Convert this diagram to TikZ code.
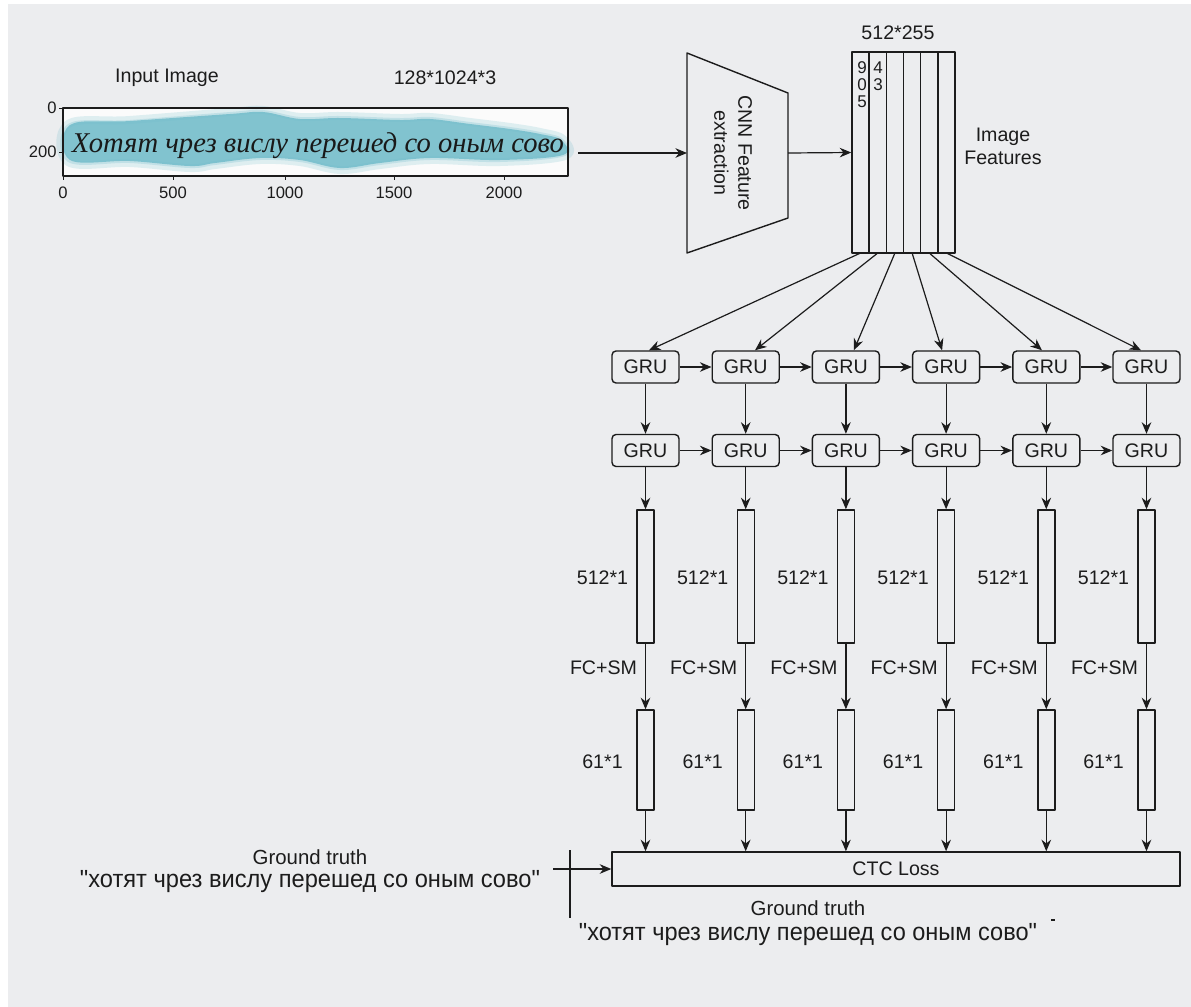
\documentclass[tikz,border=0pt]{standalone}
\usepackage{fontspec}
\setmainfont{Liberation Sans}[Ligatures=TeXOff]
\newfontfamily\handfont{Liberation Serif}
\usetikzlibrary{arrows.meta,calc}
\definecolor{bg}{RGB}{236,237,239}
\definecolor{ink}{RGB}{28,28,28}
\definecolor{blob}{RGB}{108,186,200}
\tikzset{
  lbl/.style={font=\fontsize{9.8}{11}\selectfont, text=ink, inner sep=0pt},
  tick/.style={font=\fontsize{8.3}{9}\selectfont, text=ink, inner sep=0pt},
  digit/.style={font=\fontsize{8.5}{9}\selectfont, text=ink, inner sep=0pt},
  arr/.style={draw=ink, line width=0.6pt, -{Stealth[length=5.8pt,width=4.8pt]}},
  ln/.style={draw=ink, line width=0.7pt},
  gru/.style={draw=ink, line width=0.7pt, rounded corners=2pt, minimum width=33.5pt, minimum height=16pt, inner sep=0pt, font=\fontsize{9.8}{11}\selectfont, text=ink},
  barA/.style={draw=ink, line width=0.7pt, minimum width=8.5pt, minimum height=66.5pt, inner sep=0pt},
  barB/.style={draw=ink, line width=0.7pt, minimum width=8.5pt, minimum height=50pt, inner sep=0pt},
}
\begin{document}
\begin{tikzpicture}[x=0.5pt,y=-0.5pt, line join=round]
\useasboundingbox (0,0) rectangle (1191,1007);
\fill[white] (0,0) rectangle (1191,1007);
\fill[bg] (8,4) rectangle (1191,1007);

% ---------- input image plot ----------
\node[lbl] (ttlin) at (167,78) {Input Image};
\node[lbl] (ttlsz) at (445,78) {128*1024*3};
\fill[white!97!gray] (63,108) rectangle (568,176);
\path[fill=blob, fill opacity=0.25, draw=blob, draw opacity=0.2, line width=4pt]
  plot[smooth cycle, tension=0.6] coordinates {
   (68,124) (130,120) (230,112) (263,110) (300,117) (340,116) (400,118) (430,117)
   (470,122) (510,127) (540,132) (563,139) (565,156) (500,162) (430,160)
   (380,165) (340,170) (300,162) (260,160) (215,165) (190,168) (130,163) (68,162)};
\path[fill=blob, fill opacity=0.8]
  plot[smooth cycle, tension=0.6] coordinates {
   (70,125) (130,121) (230,114) (263,112) (300,119) (340,118) (400,120) (430,119)
   (470,124) (510,129) (540,134) (561,140) (563,155) (500,160) (430,158)
   (380,163) (340,168) (300,160) (260,158) (215,163) (190,166) (130,161) (70,160)};
\node[text=black!90, inner sep=0pt] (hand) at (318,146)
  {\resizebox{246pt}{!}{\handfont\itshape Хотят чрез вислу перешед со оным сово}};
\node[draw=ink, line width=0.6pt, minimum width=252.5pt, minimum height=34pt, inner sep=0pt] (plot) at (315.5,142) {};
% ticks
\draw[ln, line width=0.5pt] (59,108) -- (63,108) (59,152) -- (63,152);
\foreach \xv/\xl in {63/0,173/500,285/1000,394/1500,504/2000}
  \draw[ln, line width=0.5pt] (\xv,176) -- (\xv,180);
\node[tick, anchor=east] (y0) at (57,108) {0};
\node[tick, anchor=east] (y200) at (57,152) {200};
\node[tick] (x0) at (63,193) {0};
\node[tick] (x500) at (173,193) {500};
\node[tick] (x1000) at (285,193) {1000};
\node[tick] (x1500) at (394,193) {1500};
\node[tick] (x2000) at (504,193) {2000};

% ---------- CNN ----------
\draw[ln] (687,53) -- (788,93) -- (788,218) -- (687,253) -- cycle;
\coordinate (cnnL) at (687,153);
\coordinate (cnnR) at (788,153);
\node[lbl, rotate=-90, align=center, font=\fontsize{9.8}{12}\selectfont] (cnn) at (733,153) {CNN Feature\\extraction};
\coordinate (plotout) at (578,153);
\draw[arr] (plotout) -- (cnnL);

% ---------- feature map ----------
\node[draw=ink, line width=0.7pt, minimum width=51.5pt, minimum height=100.5pt, inner sep=0pt] (fmap) at (903.5,152.5) {};
\foreach \k in {1,...,5} \draw[ln] (852+17.17*\k,52) -- (852+17.17*\k,253);
\draw[arr] (cnnR) -- (fmap.west);
\node[lbl] (fmsz) at (898,33) {512*255};
\node[lbl, align=center, font=\fontsize{9.8}{11.5}\selectfont] (fmlbl) at (1003,146) {Image\\Features};
\node[digit] (d9) at (862,68) {9};
\node[digit] (d0) at (862,85) {0};
\node[digit] (d5) at (862,102) {5};
\node[digit] (d4) at (878,68) {4};
\node[digit] (d3) at (878,85) {3};

% ---------- GRUs and columns ----------
\foreach \i in {1,...,6} {
  \pgfmathsetmacro\cx{645.5+100.2*(\i-1)}
  \node[gru] (ga\i) at (\cx,367) {GRU};
  \node[gru] (gb\i) at (\cx,450.5) {GRU};
  \node[barA] (ba\i) at (\cx,576.5) {};
  \node[barB] (bb\i) at (\cx,760) {};
  \node[lbl] (la\i) at (\cx-43,578) {512*1};
  \node[lbl] (lf\i) at (\cx-42,668) {FC+SM};
  \node[lbl] (lc\i) at (\cx-43,762) {61*1};
  \coordinate (fm\i) at (852+17.17*\i-8.58,253);
  \draw[arr] (ga\i) -- (gb\i);
  \draw[arr] (gb\i) -- (ba\i);
  \draw[arr] (ba\i) -- (bb\i);
}
\foreach \i/\dx in {1/3.5,2/9.3,3/8,4/-4,5/-4.3,6/-5.5}
  \draw[arr] (fm\i) -- ($(ga\i.north)+(\dx,0)$);
\foreach \i/\j in {1/2,2/3,3/4,4/5,5/6} {
  \draw[arr] (ga\i) -- (ga\j);
  \draw[arr] (gb\i) -- (gb\j);
}

% ---------- CTC ----------
\node[draw=ink, line width=0.7pt, minimum width=284pt, minimum height=17pt, inner sep=0pt, font=\fontsize{9.8}{11}\selectfont, text=ink] (ctc) at (896,869) {CTC Loss};
\foreach \i in {1,...,6} \draw[arr] (bb\i.south) -- (bb\i.south |- ctc.north);

% ---------- ground truth ----------
\node[lbl, font=\fontsize{10.2}{12}\selectfont] (gt1) at (310,857) {Ground truth};
\node[lbl] (q1) at (310,882) {\resizebox{230pt}{\height}{\fontsize{12.4}{14}\selectfont "хотят чрез вислу перешед со оным сово"}};
\coordinate (gtv1) at (570,850);
\coordinate (gtv2) at (570,918);
\draw[ln] (gtv1) -- (gtv2);
\coordinate (gtin) at (553,869);
\draw[arr] (gtin) -- (ctc.west);
\node[lbl, font=\fontsize{10.2}{12}\selectfont] (gt2) at (808,908) {Ground truth};
\node[lbl] (q2) at (808,935) {\resizebox{229pt}{\height}{\fontsize{12.4}{14}\selectfont "хотят чрез вислу перешед со оным сово"}};
\coordinate (dashA) at (1051,920);
\coordinate (dashB) at (1055,920);
\draw[ln, line width=0.6pt] (dashA) -- (dashB);
\end{tikzpicture}
\end{document}
